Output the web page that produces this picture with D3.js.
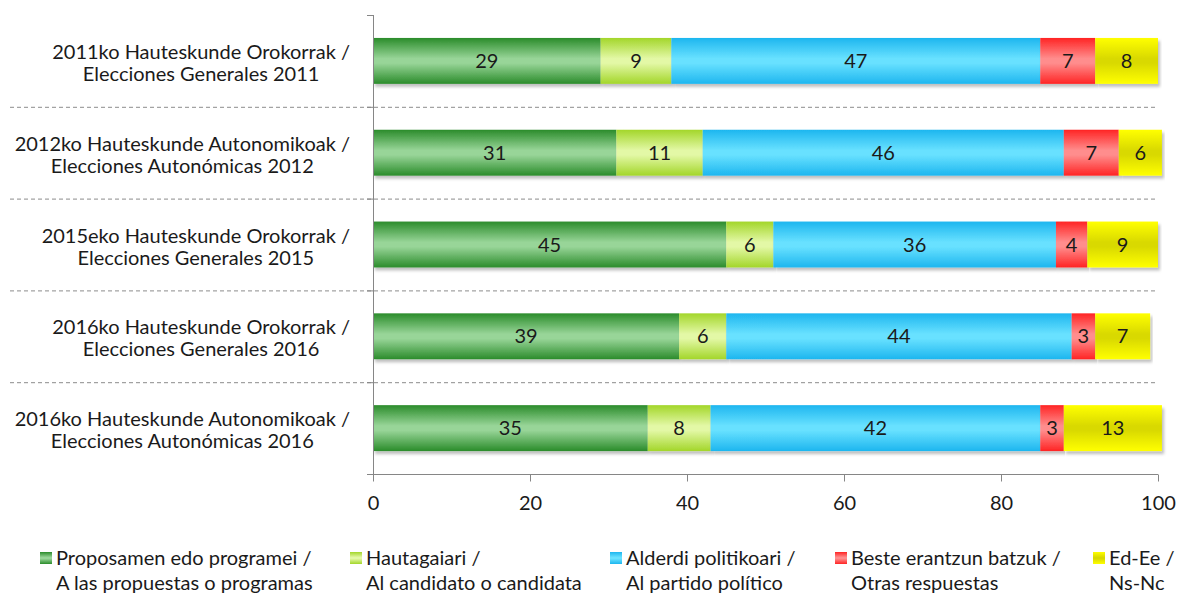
<!DOCTYPE html>
<html>
<head>
<meta charset="utf-8">
<script src="https://cdnjs.cloudflare.com/ajax/libs/d3/7.8.5/d3.min.js"></script>
<style>
    body { margin: 0; background: #fff; }
    svg { display: block; font-family: Lato, "Open Sans", sans-serif; }
</style>
</head>
<body>
<div id="chart"></div>
<script>
'use strict';

// categories (two lines each, as in the original wrapped labels)
var categories = [
    ["2011ko Hauteskunde Orokorrak /", "Elecciones Generales 2011"],
    ["2012ko Hauteskunde Autonomikoak /", "Elecciones Autonómicas 2012"],
    ["2015eko Hauteskunde Orokorrak /", "Elecciones Generales 2015"],
    ["2016ko Hauteskunde Orokorrak /", "Elecciones Generales 2016"],
    ["2016ko Hauteskunde Autonomikoak /", "Elecciones Autonómicas 2016"]
];

// series values, one per category
var propuestas = [29, 31, 45, 39, 35];
var candidato  = [9, 11, 6, 6, 8];
var partido    = [47, 46, 36, 44, 42];
var otras      = [7, 7, 4, 3, 3];
var nsnc       = [8, 5.5, 9, 7, 12.5];

var seriesNames = [
    ["Proposamen edo programei /", "A las propuestas o programas"],
    ["Hautagaiari /", "Al candidato o candidata"],
    ["Alderdi politikoari /", "Al partido político"],
    ["Beste erantzun batzuk /", "Otras respuestas"],
    ["Ed-Ee /", "Ns-Nc"]
];

var xTicks = [0, 20, 40, 60, 80, 100];

var width = 1177, height = 596;
var margin = { left: 373, right: 19, top: 15, bottom: 122 };
var fontSize = "20px";
var textColour = "#1a1a1a";

// edge / centre colours for the bar gradients
var colours = [
    { id: "g0", edge: "#2b8c2b", mid: "#98d598" },
    { id: "g1", edge: "#a3d62a", mid: "#e3f8a6" },
    { id: "g2", edge: "#1db6ef", mid: "#68e1ff" },
    { id: "g3", edge: "#ff2424", mid: "#ff8d8d" },
    { id: "g4", edge: "#ffff00", mid: "#d9d900" }
];
var legendX = [40, 350, 610, 835, 1093];

var seriesData = [propuestas, candidato, partido, otras, nsnc];

var table = categories.map(function (c, i) {
    var row = { key: i };
    seriesData.forEach(function (s, j) { row["s" + j] = s[i]; });
    return row;
});
var keys = seriesData.map(function (s, j) { return "s" + j; });
var stacked = d3.stack().keys(keys)(table);

var svg = d3.select("#chart").append("svg")
    .attr("width", width)
    .attr("height", height);

var defs = svg.append("defs");
colours.forEach(function (c) {
    var grad = defs.append("linearGradient")
        .attr("id", c.id)
        .attr("x1", 0).attr("y1", 0).attr("x2", 0).attr("y2", 1);
    grad.append("stop").attr("offset", "0%").attr("stop-color", c.edge);
    grad.append("stop").attr("offset", "45%").attr("stop-color", c.mid);
    grad.append("stop").attr("offset", "55%").attr("stop-color", c.mid);
    grad.append("stop").attr("offset", "100%").attr("stop-color", c.edge);
});
defs.append("filter").attr("id", "shadow")
    .attr("x", "-5%").attr("y", "-20%").attr("width", "110%").attr("height", "150%")
    .append("feDropShadow")
    .attr("dx", 2).attr("dy", 3).attr("stdDeviation", 1.5)
    .attr("flood-color", "#000").attr("flood-opacity", 0.25);

var x = d3.scaleLinear().domain([0, 100]).range([margin.left, width - margin.right]);
var y = d3.scaleBand().domain(d3.range(categories.length))
    .range([margin.top, height - margin.bottom])
    .paddingInner(0.5).paddingOuter(0.25);
var bandStep = y.step();

// dashed separators between categories
svg.append("g").selectAll("line")
    .data(d3.range(1, categories.length))
    .enter().append("line")
    .attr("x1", 10)
    .attr("x2", width - margin.right)
    .attr("y1", function (d) { return margin.top + d * bandStep + 0.5; })
    .attr("y2", function (d) { return margin.top + d * bandStep + 0.5; })
    .attr("stroke", "#8c8c8c")
    .attr("stroke-width", 1)
    .attr("stroke-dasharray", "4,3");

// bars
var layers = svg.append("g").selectAll("g.layer")
    .data(stacked)
    .enter().append("g")
    .attr("class", "layer")
    .attr("fill", function (d, i) { return "url(#" + colours[i].id + ")"; });

layers.selectAll("rect")
    .data(function (d) { return d; })
    .enter().append("rect")
    .attr("x", function (d) { return x(d[0]); })
    .attr("y", function (d) { return y(d.data.key); })
    .attr("width", function (d) { return x(d[1]) - x(d[0]); })
    .attr("height", y.bandwidth())
    .attr("filter", "url(#shadow)");

// value labels
layers.selectAll("text")
    .data(function (d) { return d; })
    .enter().append("text")
    .attr("x", function (d) { return (x(d[0]) + x(d[1])) / 2; })
    .attr("y", function (d) { return y(d.data.key) + y.bandwidth() / 2 + 7; })
    .attr("text-anchor", "middle")
    .attr("fill", textColour)
    .style("font-size", fontSize)
    .text(function (d) { return Math.round(d[1] - d[0]); });

// y axis line and tick marks at band boundaries
svg.append("line")
    .attr("x1", margin.left + 0.5).attr("x2", margin.left + 0.5)
    .attr("y1", margin.top).attr("y2", height - margin.bottom)
    .attr("stroke", "#868686");
svg.append("g").selectAll("line")
    .data(d3.range(0, categories.length + 1))
    .enter().append("line")
    .attr("x1", margin.left - 6).attr("x2", margin.left)
    .attr("y1", function (d) { return margin.top + d * bandStep + 0.5; })
    .attr("y2", function (d) { return margin.top + d * bandStep + 0.5; })
    .attr("stroke", "#868686");

// category labels: block right aligned, lines centred inside the block
var labelG = svg.append("g");
categories.forEach(function (c, i) {
    var cy = y(i) + y.bandwidth() / 2;
    var g = labelG.append("g");
    var t = g.selectAll("text").data(c).enter().append("text")
        .attr("y", function (d, k) { return cy + (k === 0 ? -2 : 20); })
        .attr("text-anchor", "middle")
        .attr("fill", textColour)
        .style("font-size", fontSize)
        .text(function (d) { return d; });
    var w = 0;
    t.each(function () { w = Math.max(w, this.getComputedTextLength()); });
    t.attr("x", 350 - w / 2);
});

// x axis
var xAxis = svg.append("g")
    .attr("transform", "translate(0," + (height - margin.bottom + 0.5) + ")")
    .call(d3.axisBottom(x).tickValues(xTicks).tickSize(7).tickPadding(14));
xAxis.select(".domain").attr("stroke", "#868686").attr("d", "M" + (margin.left - 6) + ",0H" + (width - margin.right));
xAxis.selectAll(".tick line").attr("stroke", "#868686");
xAxis.selectAll(".tick text")
    .attr("fill", textColour)
    .style("font-size", fontSize)
    .style("font-family", "Lato, 'Open Sans', sans-serif");

// legend
var legend = svg.append("g").selectAll("g")
    .data(seriesNames)
    .enter().append("g")
    .attr("transform", function (d, i) { return "translate(" + legendX[i] + ",552)"; });

legend.append("rect")
    .attr("width", 12).attr("height", 12)
    .attr("fill", function (d, i) { return "url(#" + colours[i].id + ")"; });

legend.selectAll("text")
    .data(function (d) { return d; })
    .enter().append("text")
    .attr("x", 16)
    .attr("y", function (d, k) { return 13 + k * 25; })
    .attr("fill", textColour)
    .style("font-size", fontSize)
    .text(function (d) { return d; });
</script>
</body>
</html>
